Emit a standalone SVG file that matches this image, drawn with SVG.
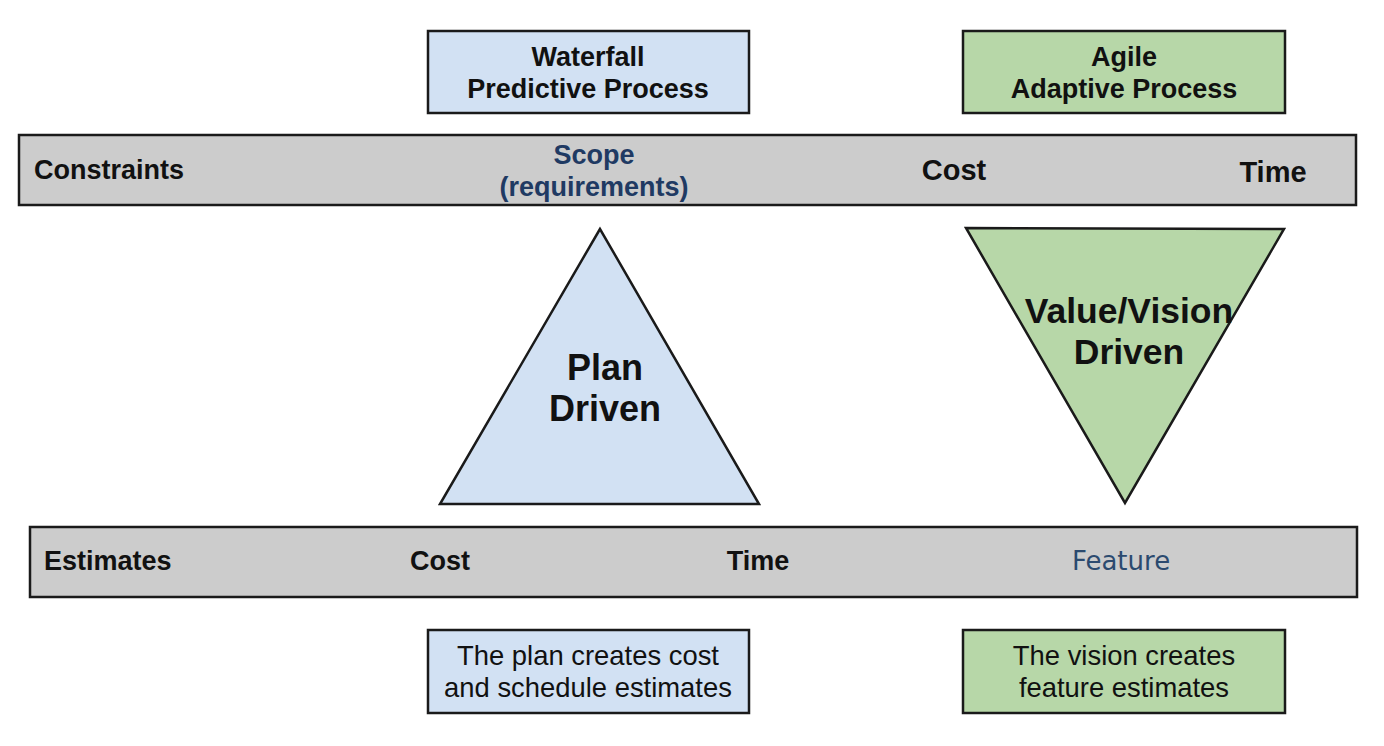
<svg xmlns="http://www.w3.org/2000/svg" width="1384" height="746" viewBox="0 0 1384 746">
<style>
.box{stroke:#1a1a1a;stroke-width:2.5}
.blue{fill:#d2e1f3}
.green{fill:#b7d7a8}
.bar{fill:#cccccc;stroke:#1a1a1a;stroke-width:2.5}
.t{font-family:"Liberation Sans",Arial,sans-serif;fill:#111}
.b{font-weight:bold}
.navy{fill:#1f3a63}
</style>
<rect width="1384" height="746" fill="#ffffff"/>
<g id="waterfall">
<rect class="box blue" x="428" y="31" width="321" height="82"/>
<text class="t b" x="588" y="66" font-size="27" text-anchor="middle">Waterfall</text>
<text class="t b" x="588" y="98" font-size="27" text-anchor="middle">Predictive Process</text>
</g>
<g id="agile">
<rect class="box green" x="963" y="31" width="322" height="82"/>
<text class="t b" x="1124" y="66" font-size="27" text-anchor="middle">Agile</text>
<text class="t b" x="1124" y="98" font-size="27" text-anchor="middle">Adaptive Process</text>
</g>
<g id="constraints">
<rect class="bar" x="19" y="135" width="1337" height="70"/>
<text class="t b" x="34" y="179" font-size="27">Constraints</text>
<text class="t b navy" x="594" y="164" font-size="27" text-anchor="middle">Scope</text>
<text class="t b navy" x="594" y="196" font-size="27" text-anchor="middle">(requirements)</text>
<text class="t b" x="954" y="180" font-size="29" text-anchor="middle">Cost</text>
<text class="t b" x="1273" y="182" font-size="29" text-anchor="middle">Time</text>
</g>
<g id="plan-driven">
<polygon class="box blue" points="600,229 440,504 759,504"/>
<text class="t b" x="605" y="380" font-size="36" text-anchor="middle">Plan</text>
<text class="t b" x="605" y="421" font-size="36" text-anchor="middle">Driven</text>
</g>
<g id="value-driven">
<polygon class="box green" points="966,228 1284,229 1125,503"/>
<text class="t b" x="1129" y="323" font-size="35.5" text-anchor="middle">Value/Vision</text>
<text class="t b" x="1129" y="364" font-size="35.5" text-anchor="middle">Driven</text>
</g>
<g id="estimates">
<rect class="bar" x="30" y="527" width="1327" height="70"/>
<text class="t b" x="44" y="570" font-size="27">Estimates</text>
<text class="t b" x="440" y="570" font-size="27" text-anchor="middle">Cost</text>
<text class="t b" x="758" y="570" font-size="27" text-anchor="middle">Time</text>
<text class="t" x="1121" y="570" font-size="26" text-anchor="middle" style="font-family:'DejaVu Sans','Open Sans',sans-serif;fill:#2b4a6f">Feature</text>
</g>
<g id="plan-note">
<rect class="box blue" x="428" y="630" width="321" height="83"/>
<text class="t" x="588" y="665" font-size="27.4" text-anchor="middle">The plan creates cost</text>
<text class="t" x="588" y="697" font-size="27.4" text-anchor="middle">and schedule estimates</text>
</g>
<g id="vision-note">
<rect class="box green" x="963" y="630" width="322" height="83"/>
<text class="t" x="1124" y="665" font-size="27.4" text-anchor="middle">The vision creates</text>
<text class="t" x="1124" y="697" font-size="27.4" text-anchor="middle">feature estimates</text>
</g>
<g id="connectors"></g>
</svg>
